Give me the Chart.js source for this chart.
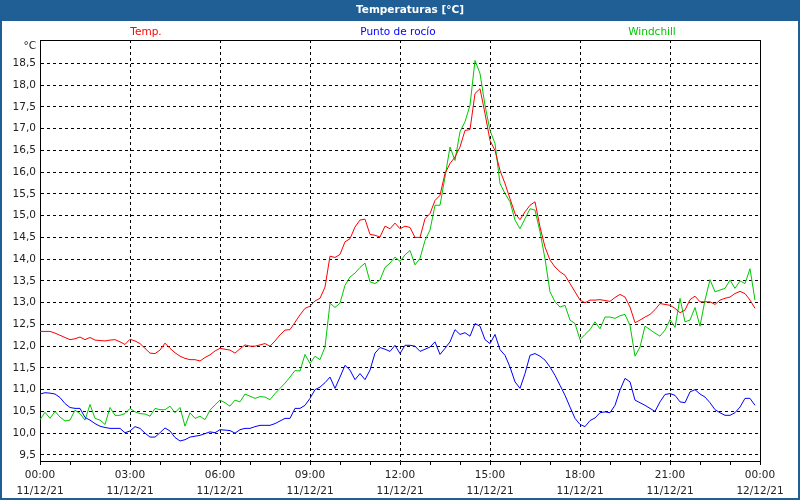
<!DOCTYPE html>
<html>
<head>
<meta charset="utf-8">
<script src="https://cdn.jsdelivr.net/npm/chart.js@4.4.1/dist/chart.umd.min.js"></script>
<style>
  html, body { margin: 0; padding: 0; background: #fff; }
  canvas { display: block; }
</style>
</head>
<body>
<canvas id="chart" width="800" height="500"></canvas>
<script>
// lecturas cada 10 minutos, 11/12/21 00:00 -> 23:50
var temp = [
  12.34, 12.34, 12.34, 12.30, 12.25, 12.20, 12.15, 12.17, 12.21, 12.15,
  12.20, 12.14, 12.13, 12.12, 12.14, 12.15, 12.10, 12.04, 12.16, 12.12,
  12.06, 11.95, 11.84, 11.83, 11.91, 12.07, 11.95, 11.85, 11.77, 11.72,
  11.69, 11.69, 11.66, 11.74, 11.80, 11.89, 11.95, 11.93, 11.91, 11.84,
  11.94, 12.03, 12.00, 12.00, 12.03, 12.06, 12.00, 12.12, 12.26, 12.37,
  12.38, 12.55, 12.72, 12.87, 12.92, 13.04, 13.10, 13.36, 14.07, 14.04,
  14.11, 14.40, 14.47, 14.74, 14.90, 14.92, 14.57, 14.55, 14.51, 14.76,
  14.70, 14.83, 14.70, 14.76, 14.73, 14.50, 14.50, 14.93, 15.05, 15.35,
  15.47, 15.97, 16.20, 16.35, 16.58, 16.96, 16.98, 17.81, 17.92, 17.35,
  16.73, 16.50, 16.04, 15.74, 15.39, 15.05, 14.91, 15.09, 15.24, 15.32,
  14.74, 14.28, 13.98, 13.82, 13.71, 13.63, 13.44, 13.25, 13.06, 13.00,
  13.06, 13.06, 13.07, 13.05, 13.03, 13.12, 13.19, 13.13, 12.90, 12.54,
  12.60, 12.67, 12.73, 12.84, 12.98, 12.96, 12.94, 12.87, 12.77, 12.83,
  13.07, 13.15, 13.02, 13.02, 13.02, 12.96, 13.06, 13.10, 13.13, 13.21,
  13.26, 13.21, 13.06, 12.87
];
var dewPoint = [
  10.90, 10.93, 10.92, 10.90, 10.82, 10.68, 10.59, 10.57, 10.57, 10.36,
  10.30, 10.22, 10.16, 10.13, 10.11, 10.11, 10.11, 10.01, 10.05, 10.15,
  10.11, 10.00, 9.91, 9.91, 10.01, 10.12, 10.05, 9.90, 9.82, 9.85,
  9.91, 9.93, 9.95, 9.99, 10.03, 10.01, 10.08, 10.07, 10.06, 10.00,
  10.08, 10.11, 10.11, 10.15, 10.18, 10.18, 10.18, 10.22, 10.28, 10.34,
  10.34, 10.57, 10.57, 10.64, 10.80, 11.00, 11.06, 11.16, 11.29, 11.03,
  11.29, 11.56, 11.45, 11.23, 11.37, 11.23, 11.45, 11.84, 11.97, 11.93,
  11.88, 12.02, 11.83, 12.02, 12.02, 12.00, 11.88, 11.93, 11.98, 12.10,
  11.81, 11.95, 12.10, 12.38, 12.27, 12.31, 12.23, 12.52, 12.46, 12.15,
  12.06, 12.27, 11.92, 11.79, 11.52, 11.18, 11.03, 11.37, 11.79, 11.83,
  11.77, 11.68, 11.52, 11.33, 11.10, 10.87, 10.60, 10.34, 10.20, 10.15,
  10.29, 10.35, 10.47, 10.49, 10.47, 10.64, 10.99, 11.26, 11.18, 10.76,
  10.70, 10.64, 10.57, 10.50, 10.72, 10.89, 10.91, 10.87, 10.72, 10.70,
  10.95, 11.00, 10.90, 10.83, 10.70, 10.54, 10.47, 10.41, 10.41, 10.47,
  10.60, 10.80, 10.80, 10.64
];
var windchill = [
  10.31, 10.48, 10.34, 10.50, 10.37, 10.28, 10.30, 10.53, 10.45, 10.30,
  10.66, 10.34, 10.30, 10.20, 10.59, 10.41, 10.41, 10.45, 10.57, 10.49,
  10.45, 10.44, 10.39, 10.57, 10.54, 10.54, 10.62, 10.47, 10.59, 10.16,
  10.47, 10.34, 10.39, 10.31, 10.53, 10.65, 10.76, 10.70, 10.62, 10.76,
  10.72, 10.90, 10.85, 10.80, 10.84, 10.83, 10.77, 10.91, 11.03, 11.15,
  11.29, 11.44, 11.43, 11.81, 11.60, 11.77, 11.69, 11.98, 12.99, 12.89,
  12.99, 13.40, 13.59, 13.68, 13.81, 13.91, 13.48, 13.44, 13.52, 13.81,
  13.91, 14.05, 13.95, 14.10, 14.20, 13.87, 14.02, 14.43, 14.67, 15.24,
  15.24, 15.89, 16.58, 16.27, 16.93, 17.16, 17.54, 18.57, 18.27, 17.54,
  16.96, 16.66, 15.74, 15.51, 15.32, 14.90, 14.70, 14.93, 15.16, 15.13,
  14.63, 14.01, 13.25, 13.02, 12.90, 12.94, 12.60, 12.52, 12.15, 12.27,
  12.38, 12.56, 12.40, 12.67, 12.67, 12.64, 12.70, 12.73, 12.48, 11.77,
  11.98, 12.46, 12.38, 12.30, 12.23, 12.37, 12.61, 12.43, 13.10, 12.56,
  12.60, 12.89, 12.46, 13.06, 13.53, 13.25, 13.29, 13.33, 13.52, 13.33,
  13.50, 13.44, 13.78, 13.06
];
var stepMinutes = 10;
var tickLabels = [
  ['00:00', '11/12/21'], ['03:00', '11/12/21'], ['06:00', '11/12/21'],
  ['09:00', '11/12/21'], ['12:00', '11/12/21'], ['15:00', '11/12/21'],
  ['18:00', '11/12/21'], ['21:00', '11/12/21'], ['00:00', '12/12/21']
];
var seriesNames = ['Temp.', 'Punto de rocío', 'Windchill'];
var seriesColors = ['#ff0000', '#0000ff', '#00c800'];

var FONT = '"DejaVu Sans", Verdana, sans-serif';

function toPoints(values) {
    return values.map(function(v, i) { return { x: i * stepMinutes, y: v }; });
}

// marco, barra de titulo y leyenda
var framePlugin = {
    id: 'frame',
    beforeDraw: function(chart) {
        var ctx = chart.ctx;
        ctx.save();
        ctx.fillStyle = '#ffffff';
        ctx.fillRect(0, 0, 800, 500);
        ctx.fillStyle = '#1f5f96';
        ctx.fillRect(0, 0, 800, 21);
        ctx.strokeStyle = '#1f5f96';
        ctx.lineWidth = 2;
        ctx.strokeRect(1, 1, 798, 498);

        ctx.fillStyle = '#ffffff';
        ctx.font = 'bold 10.5px ' + FONT;
        ctx.textAlign = 'center';
        ctx.textBaseline = 'middle';
        ctx.fillText('Temperaturas [°C]', 410, 10.5);

        ctx.font = '10.5px ' + FONT;
        var legendX = [146, 398, 652];
        for (var i = 0; i < seriesNames.length; i++) {
            ctx.fillStyle = seriesColors[i];
            ctx.fillText(seriesNames[i], legendX[i], 32);
        }

        ctx.fillStyle = '#222';
        ctx.textAlign = 'right';
        ctx.fillText('°C', 36, 46);
        ctx.restore();
    },
    afterDraw: function(chart) {
        var a = chart.chartArea;
        var ctx = chart.ctx;
        ctx.save();
        ctx.strokeStyle = '#000';
        ctx.lineWidth = 1;
        ctx.beginPath();
        ctx.moveTo(a.left, a.top + 0.5);
        ctx.lineTo(a.right + 0.5, a.top + 0.5);
        ctx.lineTo(a.right + 0.5, a.bottom);
        ctx.stroke();
        ctx.restore();
    }
};

var datasets = [temp, dewPoint, windchill].map(function(values, i) {
    return {
        label: seriesNames[i],
        data: toPoints(values),
        borderColor: seriesColors[i],
        borderWidth: 1,
        pointRadius: 0,
        tension: 0,
        fill: false
    };
});

new Chart(document.getElementById('chart'), {
    type: 'line',
    data: { datasets: datasets },
    options: {
        responsive: false,
        animation: false,
        devicePixelRatio: 1,
        layout: { padding: { top: 40, right: 40, left: 0, bottom: 0 } },
        plugins: {
            legend: { display: false },
            title: { display: false },
            tooltip: { enabled: false }
        },
        scales: {
            x: {
                type: 'linear',
                min: 0,
                max: 1440,
                afterFit: function(scale) { scale.height = 39; },
                grid: {
                    color: function(c) { return c.tick && c.tick.value % 180 === 0 ? '#000' : 'rgba(0,0,0,0)'; },
                    tickColor: '#000',
                    tickLength: 4,
                    lineWidth: 1
                },
                border: { display: true, color: '#000', width: 1, dash: [3, 3] },
                ticks: {
                    stepSize: 60,
                    autoSkip: false,
                    maxRotation: 0,
                    padding: 3,
                    color: '#222',
                    font: { family: FONT, size: 10.5, lineHeight: 1.45 },
                    callback: function(v) { return v % 180 === 0 ? tickLabels[v / 180] : ''; }
                }
            },
            y: {
                type: 'linear',
                min: 9.36,
                max: 19.04,
                afterFit: function(scale) { scale.width = 40; },
                afterBuildTicks: function(scale) {
                    scale.ticks = scale.ticks.filter(function(t) { return t.value <= 18.5; });
                },
                grid: { color: '#000', lineWidth: 1, drawTicks: false },
                border: { display: true, color: '#000', width: 1, dash: [3, 3] },
                ticks: {
                    stepSize: 0.5,
                    includeBounds: false,
                    padding: 4,
                    color: '#222',
                    font: { family: FONT, size: 10.5 },
                    callback: function(v) { return v.toFixed(1).replace('.', ','); }
                }
            }
        }
    },
    plugins: [framePlugin]
});
</script>
</body>
</html>
